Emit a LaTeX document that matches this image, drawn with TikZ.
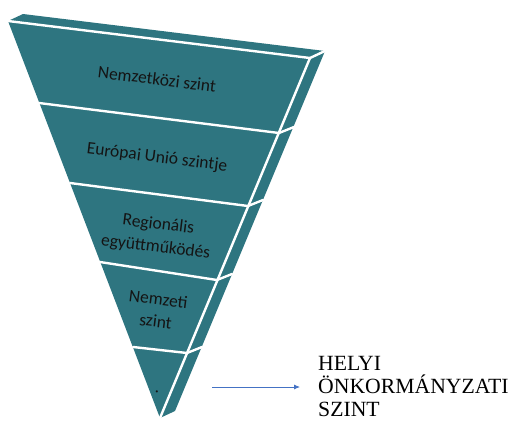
\documentclass[tikz,border=0pt]{standalone}
\usepackage{fontspec}
\setmainfont{Liberation Serif}
\newfontfamily\calib{Carlito}
\usetikzlibrary{arrows.meta}
\definecolor{tealfill}{RGB}{46,117,128}
\definecolor{labeltext}{RGB}{20,20,20}
\definecolor{arrowblue}{RGB}{68,114,196}
\tikzset{
  face/.style={fill=tealfill, draw=none},
  gap/.style={draw=white, line width=2.4pt, line cap=round, line join=round},
  lvl/.style={font=\calib\fontsize{17.5}{22.5}\selectfont, text=labeltext, align=center, rotate=-7, inner sep=0pt},
  arr/.style={draw=arrowblue, line width=0.8pt, -{Latex[length=6pt,width=5pt]}}
}
\begin{document}
\begin{tikzpicture}[x=1pt,y=-1pt]
\useasboundingbox (0,0) rectangle (509,421);
% body of the inverted pyramid
\fill[face] (8,21) -- (23,14) -- (325,51) -- (175,411) -- (160,418) -- cycle;
% separating white edges
\draw[gap] (8,21) -- (310,58) -- (325,51);
\draw[gap] (310,58) -- (160,418);
\draw[gap] (39,103) -- (279,133) -- (294,127);
\draw[gap] (70,183) -- (248,206) -- (263,200);
\draw[gap] (100,262) -- (217,280) -- (232,274);
\draw[gap] (133,347) -- (187,353) -- (202,347);
% labels
\node[lvl] (l1) at (157,79) {Nemzetközi szint};
\node[lvl] (l2) at (157,158) {Európai Unió szintje};
\node[lvl] (l3) at (157,236) {Regionális\\együttműködés};
\node[lvl] (l4) at (157,310) {Nemzeti\\szint};
\node[lvl] (l5) at (157,392) {.};
% local level
\node[anchor=north west, inner sep=0pt, align=left, font=\fontsize{21.7}{23}\selectfont] (helyi) at (318,356) {HELYI\\ÖNKORMÁNYZATI\\SZINT};
\coordinate (arrowstart) at (212,387);
\draw[arr] (arrowstart) -- (arrowstart -| helyi.west) [shorten >=18pt];
\end{tikzpicture}
\end{document}
